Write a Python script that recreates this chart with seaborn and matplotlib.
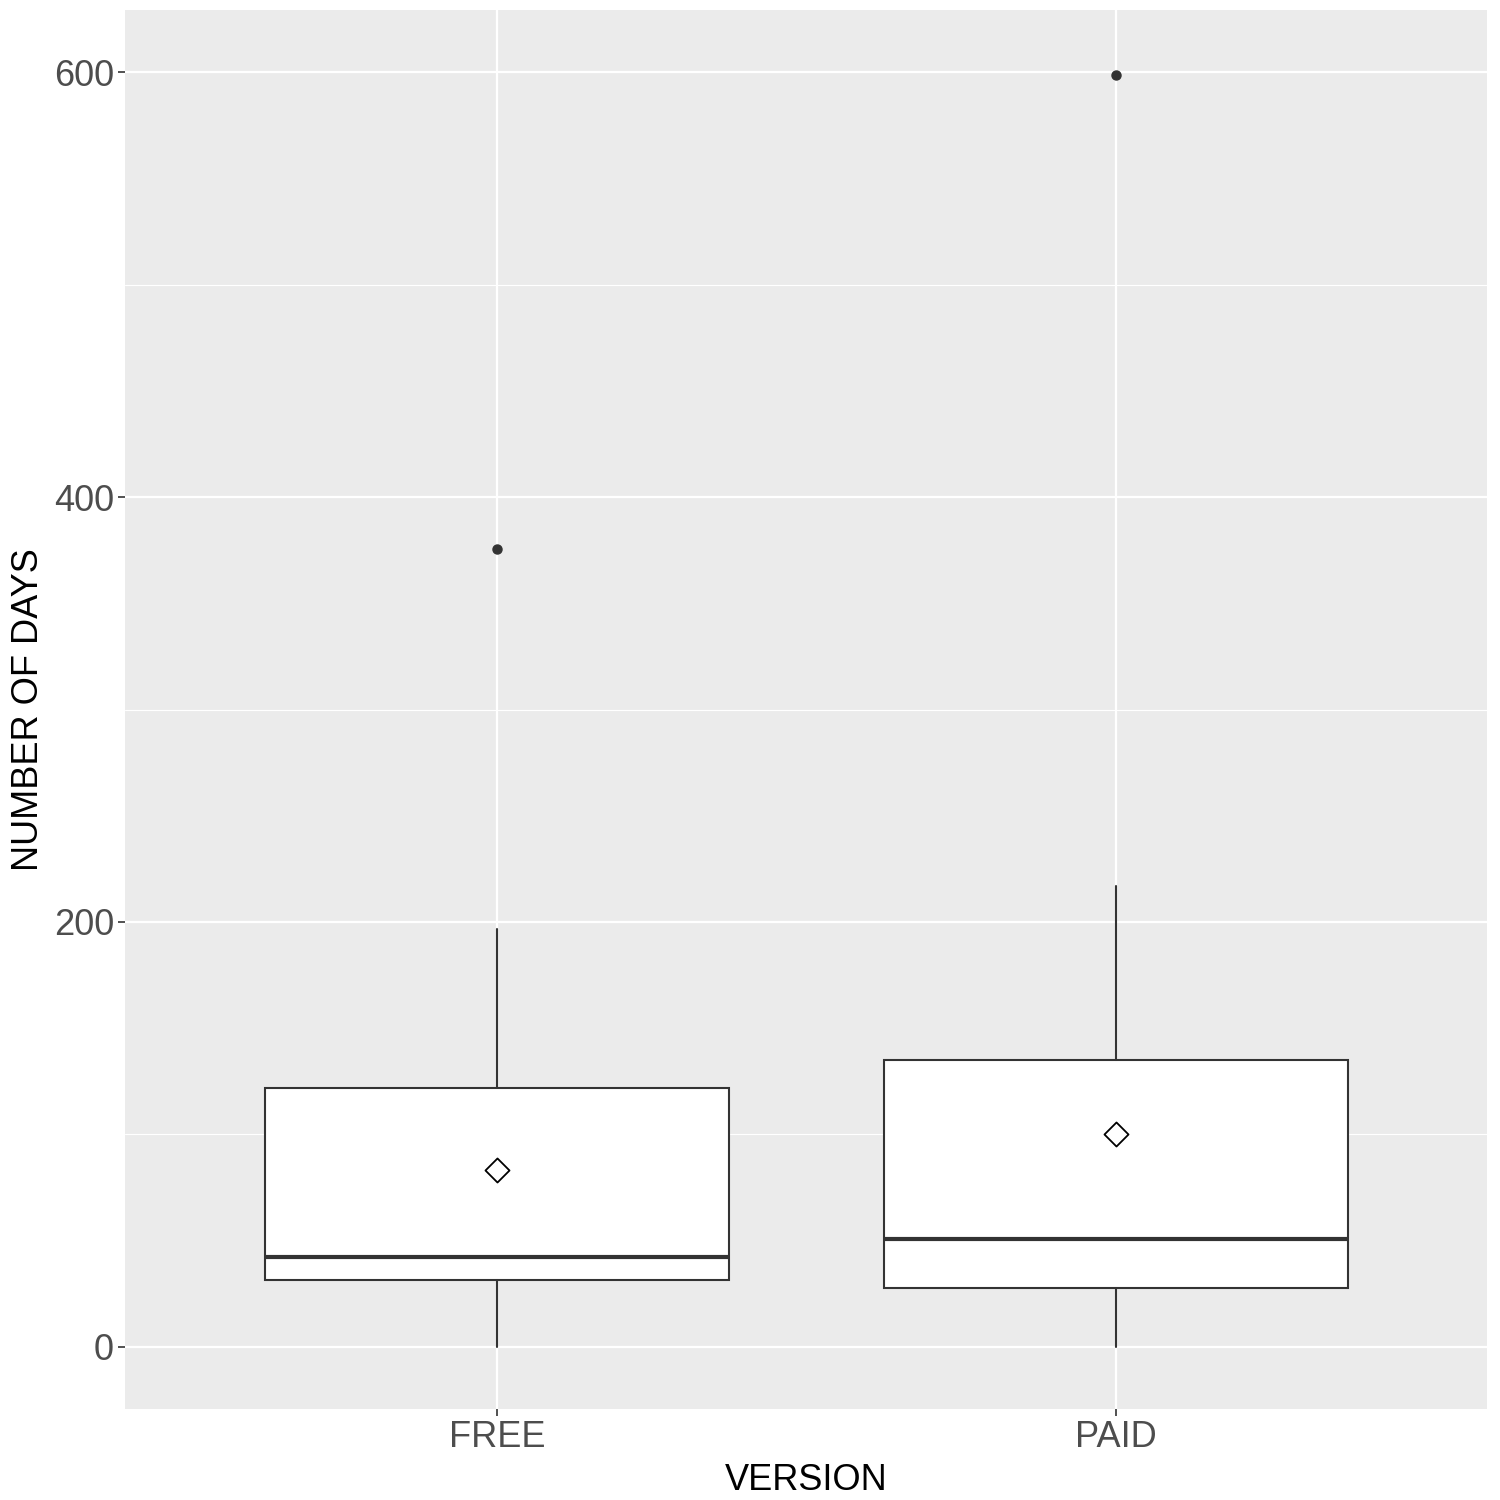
import matplotlib
matplotlib.use("Agg")
import matplotlib.pyplot as plt
import seaborn as sns
import pandas as pd

# Data (box statistics per version)
versions = ["FREE", "PAID"]
whisker_low = [0.0, 0.0]
q1 = [31.7, 27.9]
median = [42.5, 50.7]
q3 = [121.7, 134.9]
whisker_high = [196.7, 216.9]
outliers = [[375.5], [598.6]]
means = [83.3, 100.4]

sns.set_theme(style="darkgrid", rc={
    "axes.facecolor": "#EBEBEB",
    "figure.facecolor": "white",
    "grid.color": "white",
    "axes.edgecolor": "#EBEBEB",
    "xtick.bottom": True,
    "ytick.left": True,
})
plt.rcParams["font.family"] = ["Liberation Sans", "DejaVu Sans"]

fig = plt.figure(figsize=(15, 15), dpi=100)
ax = fig.add_axes([125 / 1500, 1 - 1409 / 1500, (1487 - 125) / 1500, (1409 - 10) / 1500])

positions = list(range(len(versions)))
stats = []
for i, v in enumerate(versions):
    stats.append({
        "label": v,
        "whislo": whisker_low[i],
        "q1": q1[i],
        "med": median[i],
        "q3": q3[i],
        "whishi": whisker_high[i],
        "fliers": outliers[i],
    })

lw = 1.5
ax.bxp(stats, positions=positions, widths=0.75, patch_artist=True,
       showcaps=False, showfliers=True,
       boxprops=dict(facecolor="white", edgecolor="#333333", linewidth=lw),
       whiskerprops=dict(color="#333333", linewidth=lw),
       medianprops=dict(color="#333333", linewidth=3.0, solid_capstyle="butt"),
       flierprops=dict(marker="o", markerfacecolor="#333333", markeredgecolor="#333333",
                       markersize=6.5, linestyle="none"),
       zorder=3)

mean_df = pd.DataFrame({"version": positions, "mean": means})
sns.scatterplot(data=mean_df, x="version", y="mean", marker="D", s=150,
                facecolor="white", edgecolor="black", linewidth=1.3, ax=ax, zorder=4)

ax.set_xlim(-0.601, 1.599)
ax.set_ylim(-29.2, 629.2)
ax.set_xticks(positions)
ax.set_xticklabels(versions)
ax.set_yticks([0, 200, 400, 600])
ax.set_yticks([100, 300, 500], minor=True)
ax.grid(which="major", color="white", linewidth=1.6)
ax.grid(which="minor", axis="y", color="white", linewidth=0.8)
ax.set_axisbelow(True)
for s in ax.spines.values():
    s.set_visible(False)

ax.tick_params(axis="both", which="major", left=True, bottom=True, length=5, width=1.2,
               color="#333333", labelsize=26, labelcolor="#4D4D4D", pad=3)
ax.tick_params(axis="both", which="minor", length=0)
ax.set_xlabel("VERSION", fontsize=26, color="black", labelpad=6)
ax.set_ylabel("NUMBER OF DAYS", fontsize=26, color="black")
ax.yaxis.set_label_coords(-0.058, 0.5)

fig.savefig("out.png", dpi=100)
